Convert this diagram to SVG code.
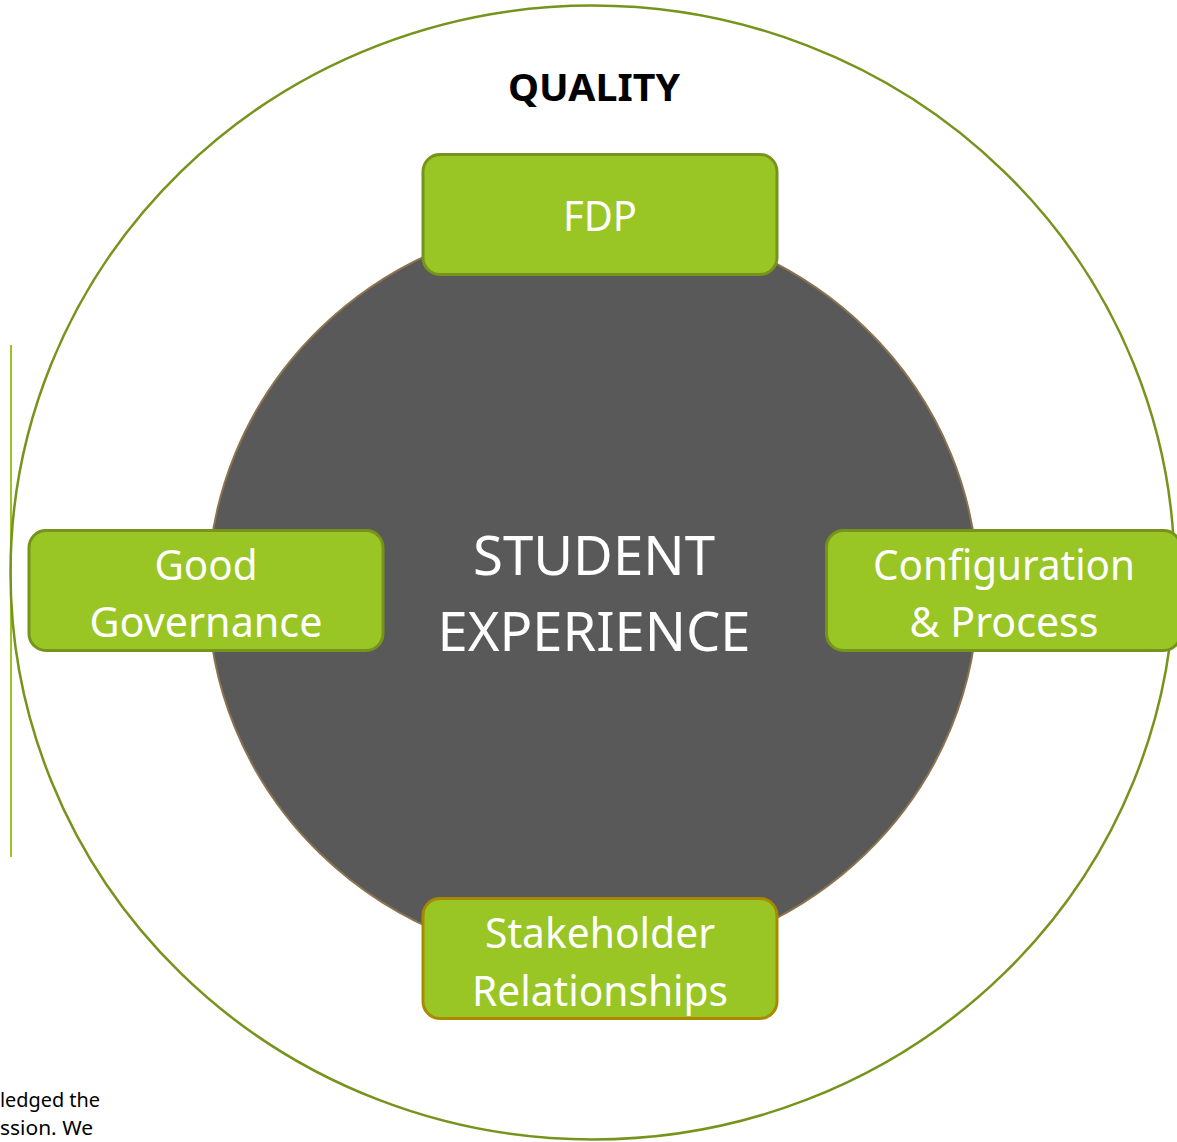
<svg xmlns="http://www.w3.org/2000/svg" width="1177" height="1142" viewBox="0 0 1177 1142">
<style>
.box{fill:#99c624;stroke:#76941c;stroke-width:3}
.bt{font-family:"Noto Sans","Open Sans",sans-serif;font-size:42px;fill:#ffffff;text-anchor:middle}
.ct{font-family:"Noto Sans","Open Sans",sans-serif;font-size:54px;fill:#ffffff;text-anchor:middle}
</style>
<rect width="1177" height="1142" fill="#ffffff"/>
<g id="side-text" font-family="Noto Sans, Open Sans, sans-serif" font-size="20" fill="#000">
<text x="0" y="1107" textLength="100" lengthAdjust="spacingAndGlyphs">ledged the</text>
<text x="0" y="1135" textLength="93" lengthAdjust="spacingAndGlyphs">ssion. We</text>
</g>
<line id="side-line" x1="11" y1="345" x2="11" y2="857" stroke="#9ac524" stroke-width="2"/>
<g id="quality">
<ellipse cx="592.5" cy="572.5" rx="582" ry="567" fill="none" stroke="#76941c" stroke-width="2.5"/>
<text x="594" y="101" font-family="Noto Sans, Open Sans, sans-serif" font-weight="bold" font-size="38" text-anchor="middle" textLength="172" lengthAdjust="spacingAndGlyphs">QUALITY</text>
</g>
<g id="student-experience">
<ellipse cx="593" cy="591" rx="385" ry="372" fill="#595959" stroke="#8b7350" stroke-width="2"/>
<text class="ct" x="594" y="575" textLength="242" lengthAdjust="spacingAndGlyphs">STUDENT</text>
<text class="ct" x="594" y="651" textLength="313" lengthAdjust="spacingAndGlyphs">EXPERIENCE</text>
</g>
<g id="fdp">
<rect class="box" x="423" y="154.5" width="354" height="120" rx="17"/>
<text class="bt" x="600" y="231" textLength="74" lengthAdjust="spacingAndGlyphs">FDP</text>
</g>
<g id="good-governance">
<rect class="box" x="29" y="530.5" width="354" height="120" rx="17"/>
<text class="bt" x="206" y="580" textLength="103" lengthAdjust="spacingAndGlyphs">Good</text>
<text class="bt" x="206" y="637" textLength="233" lengthAdjust="spacingAndGlyphs">Governance</text>
</g>
<g id="configuration-process">
<rect class="box" x="826.5" y="530.5" width="354" height="120" rx="17"/>
<text class="bt" x="1004" y="580" textLength="262" lengthAdjust="spacingAndGlyphs">Configuration</text>
<text class="bt" x="1004" y="637" textLength="189" lengthAdjust="spacingAndGlyphs">&amp; Process</text>
</g>
<g id="stakeholder-relationships">
<rect class="box" x="423" y="898.5" width="354" height="120" rx="17" style="stroke:#a88a00"/>
<text class="bt" x="600" y="948" textLength="230" lengthAdjust="spacingAndGlyphs">Stakeholder</text>
<text class="bt" x="600" y="1006" textLength="256" lengthAdjust="spacingAndGlyphs">Relationships</text>
</g>
<g id="connectors"/>
</svg>
